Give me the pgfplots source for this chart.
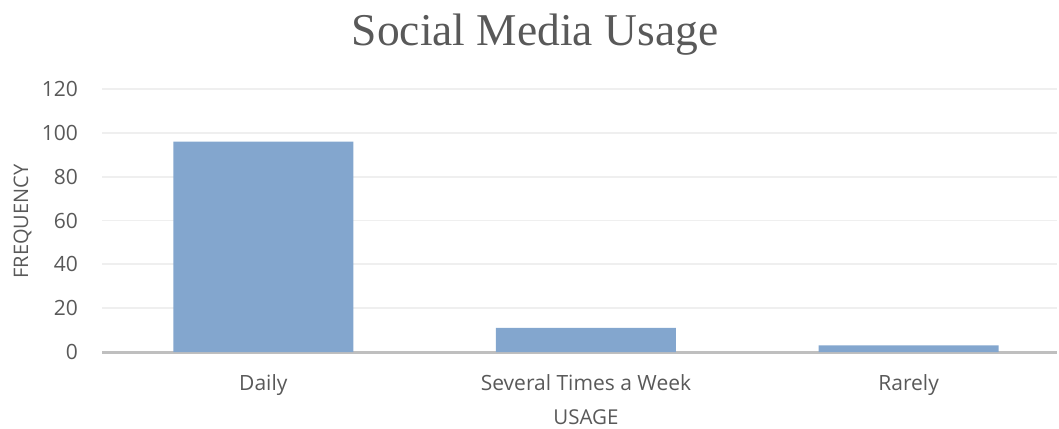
\documentclass[border=0pt]{standalone}
\usepackage{pgfplots}
\pgfplotsset{compat=1.18}
\usepackage{fontspec}
\setmainfont{Open Sans}
\newfontfamily\titlefont{Liberation Serif}
\definecolor{txt}{RGB}{89,89,89}
\definecolor{barc}{RGB}{131,166,206}
\definecolor{gridc}{RGB}{239,239,239}
\definecolor{axc}{RGB}{191,191,191}
\begin{document}
\begin{tikzpicture}
\useasboundingbox (0,0) rectangle (1059pt,428pt);
\begin{axis}[
  at={(102pt,76pt)}, anchor=south west,
  scale only axis, width=955pt, height=263pt,
  xmin=-0.5, xmax=2.46, ymin=0, ymax=120,
  ytick={0,20,...,120},
  xtick={0,1,2},
  xticklabels={Daily,Several Times a Week,Rarely},
  /pgf/number format/assume math mode=true,
  ticklabel style={font=\fontsize{21}{25}\selectfont, text=txt, inner sep=0pt},
  yticklabel style={anchor=east, xshift=-24pt},
  xticklabel style={anchor=base, yshift=-38pt},
  major tick length=0pt,
  axis x line*=bottom, axis y line*=left,
  y axis line style={draw=none},
  x axis line style={draw=axc, line width=3pt, -},
  ymajorgrids, grid style={draw=gridc, line width=1.8pt},
  ybar, bar width=180pt,
  clip=false,
]
\addplot[fill=barc, draw=none] coordinates {(0,96) (1,11) (2,3)};
\end{axis}
\node[anchor=base, text=txt, font=\titlefont\fontsize{45.5}{50}\selectfont, inner sep=0pt] at (535pt,382pt) {Social Media Usage};
\node[anchor=base, text=txt, font=\fontsize{20.5}{24}\selectfont, inner sep=0pt] at (586pt,4pt) {USAGE};
\node[rotate=90, anchor=base, text=txt, font=\fontsize{20}{24}\selectfont, inner sep=0pt] at (28pt,206.5pt) {FREQUENCY};
\end{tikzpicture}
\end{document}
